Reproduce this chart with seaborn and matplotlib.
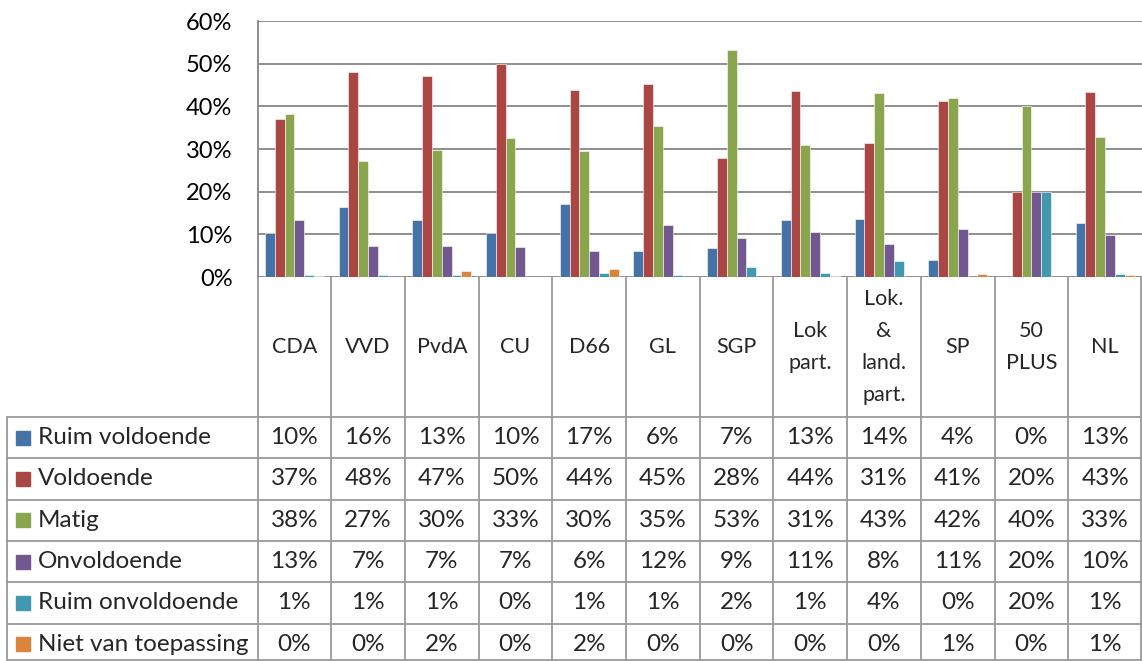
import numpy as np
import pandas as pd
import matplotlib
matplotlib.use("Agg")
import matplotlib.pyplot as plt
import seaborn as sns
from matplotlib.lines import Line2D
from matplotlib.patches import Rectangle
from matplotlib.ticker import PercentFormatter

# ---------------- data ----------------
parties = ["CDA", "VVD", "PvdA", "CU", "D66", "GL", "SGP", "Lok\npart.",
           "Lok.\n&\nland.\npart.", "SP", "50\nPLUS", "NL"]
ratings = ["Ruim voldoende", "Voldoende", "Matig", "Onvoldoende",
           "Ruim onvoldoende", "Niet van toepassing"]

ruim_voldoende = [10.4, 16.4, 13.4, 10.2, 17.2, 6.1, 6.8, 13.3, 13.6, 4.0, 0.0, 12.6]
voldoende = [37.1, 48.1, 47.1, 50.0, 43.8, 45.3, 27.9, 43.6, 31.3, 41.3, 20.0, 43.3]
matig = [38.1, 27.3, 29.7, 32.6, 29.6, 35.3, 53.3, 30.9, 43.1, 42.0, 40.0, 32.8]
onvoldoende = [13.3, 7.2, 7.2, 7.0, 6.0, 12.3, 9.1, 10.6, 7.7, 11.2, 20.0, 9.8]
ruim_onvoldoende = [0.5, 0.5, 0.5, 0.0, 0.9, 0.5, 2.3, 1.0, 3.8, 0.0, 20.0, 0.8]
niet_van_toepassing = [0.2, 0.0, 1.5, 0.0, 1.8, 0.0, 0.0, 0.2, 0.0, 0.8, 0.0, 0.5]

series = [ruim_voldoende, voldoende, matig, onvoldoende, ruim_onvoldoende, niet_van_toepassing]
colors = ["#4572A7", "#AA4643", "#89A54E", "#71588F", "#4198AF", "#DB843D"]

df = pd.DataFrame(
    [(p, r, v) for r, vals in zip(ratings, series) for p, v in zip(parties, vals)],
    columns=["party", "rating", "value"],
)

# ---------------- figure ----------------
sns.set_style("white")
plt.rcParams["font.family"] = ["Lato", "DejaVu Sans"]
FS_TABLE = 17.5
FS_TICK = 17
FS_HEAD = 15.5

W, H = 1142, 661
fig = plt.figure(figsize=(W / 100, H / 100), dpi=100)

x0, x1 = 257.5, 1142.0
y_top, y_zero = 21.0, 277.0
ax = fig.add_axes([x0 / W, 1 - y_zero / H, (x1 - x0) / W, (y_zero - y_top) / H])

sns.barplot(data=df, x="party", y="value", hue="rating", order=parties,
            hue_order=ratings, palette=colors, width=0.8, saturation=1,
            edgecolor="white", linewidth=0.4, legend=False, ax=ax)

ax.set_ylim(0, 60)
ax.set_xlim(-0.5, len(parties) - 0.5)
ax.set_yticks(np.arange(0, 61, 10))
ax.yaxis.set_major_formatter(PercentFormatter(100, decimals=0))
ax.grid(axis="y", color="#868686", linewidth=1.3)
ax.set_axisbelow(True)
ax.set_xticks([])
ax.set_xlabel("")
ax.set_ylabel("")
ax.tick_params(axis="y", length=0, pad=18, labelsize=FS_TICK, labelcolor="black")
for s in ["top", "right", "bottom"]:
    ax.spines[s].set_visible(False)
ax.spines["left"].set_color("#868686")
ax.spines["left"].set_linewidth(1.3)

# ---------------- data table ----------------
tax = fig.add_axes([0, 0, 1, 1], zorder=5)
tax.set_xlim(0, W)
tax.set_ylim(H, 0)
tax.axis("off")
tax.patch.set_alpha(0)

ncol = len(parties)
colw = (x1 - x0) / ncol
line_col = "#9A9A9A"
lw = 1.3

row_top = 417.0
row_h = 41.3
table_left = 7.0

# vertical column dividers (header + table)
for k in range(ncol + 1):
    xx = min(x0 + k * colw, W - 0.7)
    tax.add_line(Line2D([xx, xx], [y_zero, H], color=line_col, lw=lw))
tax.add_line(Line2D([table_left, table_left], [row_top, H], color=line_col, lw=lw))
# horizontal rows
for k in range(len(ratings) + 1):
    yy = min(row_top + k * row_h, H - 0.7)
    tax.add_line(Line2D([table_left, W], [yy, yy], color=line_col, lw=lw))

# header labels
for i, p in enumerate(parties):
    tax.text(x0 + (i + 0.5) * colw, (y_zero + row_top) / 2, p, ha="center",
             va="center", fontsize=FS_HEAD, linespacing=1.74, multialignment="center")

# rows
for r, (name, vals, c) in enumerate(zip(ratings, series, colors)):
    yc = row_top + (r + 0.5) * row_h
    tax.add_patch(Rectangle((16, yc - 7), 14, 14, color=c))
    tax.text(38, yc, name, ha="left", va="center", fontsize=FS_TABLE)
    for i, v in enumerate(vals):
        tax.text(x0 + (i + 0.5) * colw, yc, f"{int(np.floor(v + 0.5))}%",
                 ha="center", va="center", fontsize=FS_TABLE)

fig.savefig("out.png", dpi=100)
